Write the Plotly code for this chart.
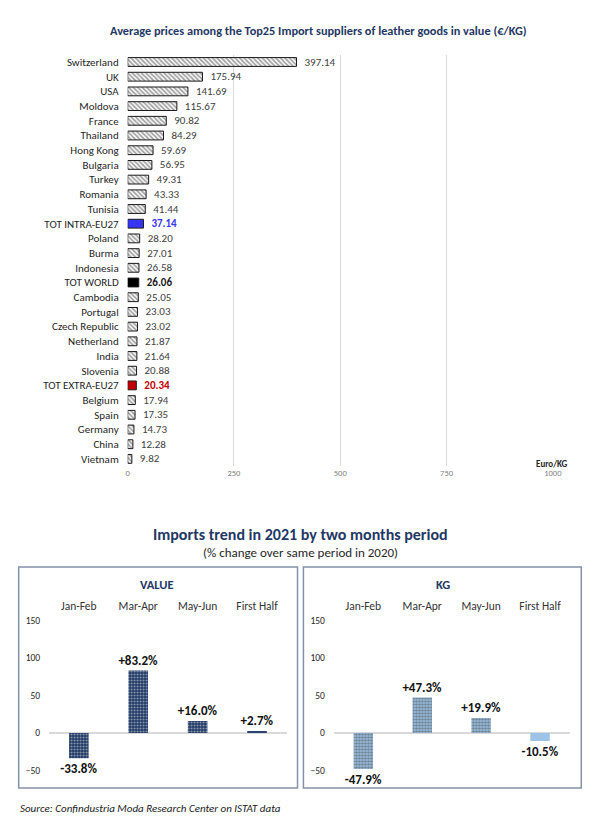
import plotly.graph_objects as go

W, H = 606, 836


def px(x):
    return x / W


def py(y):
    return 1 - y / H


# ---------------- data ----------------
countries = ["Switzerland", "UK", "USA", "Moldova", "France", "Thailand", "Hong Kong",
             "Bulgaria", "Turkey", "Romania", "Tunisia", "TOT INTRA-EU27", "Poland",
             "Burma", "Indonesia", "TOT WORLD", "Cambodia", "Portugal", "Czech Republic",
             "Netherland", "India", "Slovenia", "TOT EXTRA-EU27", "Belgium", "Spain",
             "Germany", "China", "Vietnam"]
prices = [397.14, 175.94, 141.69, 115.67, 90.82, 84.29, 59.69, 56.95, 49.31, 43.33,
          41.44, 37.14, 28.20, 27.01, 26.58, 26.06, 25.05, 23.03, 23.02, 21.87, 21.64,
          20.88, 20.34, 17.94, 17.35, 14.73, 12.28, 9.82]
x_ticks = [0, 250, 500, 750, 1000]

periods = ["Jan-Feb", "Mar-Apr", "May-Jun", "First Half"]
value_change = [-33.8, 83.2, 16.0, 2.7]
kg_change = [-47.9, 47.3, 19.9, -10.5]
y_ticks_small = [-50, 0, 50, 100, 150]

# ---------------- styles ----------------
FONT = "Carlito, Lato, 'Open Sans', sans-serif"
NAVY = "#1F3864"
KGBLUE = "#9DC3E6"
special = {"TOT INTRA-EU27": "#3535F2", "TOT WORLD": "#000000", "TOT EXTRA-EU27": "#C00000"}
special_text = {"TOT INTRA-EU27": "#3535F2", "TOT WORLD": "#1A1A1A", "TOT EXTRA-EU27": "#C00000"}
PAD = "\u00a0\u00a0"

bar_colors, shapes_p, texts, text_colors = [], [], [], []
for c, v in zip(countries, prices):
    if c in special:
        bar_colors.append(special[c])
        shapes_p.append("")
        texts.append(f"{PAD}<b>{v:.2f}</b>")
        text_colors.append(special_text[c])
    else:
        bar_colors.append("white")
        shapes_p.append("\\")
        texts.append(f"{PAD}{v:.2f}")
        text_colors.append("#404040")

fig = go.Figure()

fig.add_trace(go.Bar(
    y=countries, x=prices, orientation="h", width=0.6,
    marker=dict(color=bar_colors, line=dict(color="#1A1A1A", width=1),
                pattern=dict(shape=shapes_p, fgcolor="#111111", bgcolor="white",
                             size=3.2, solidity=0.55, fillmode="overlay")),
    text=texts, textposition="outside", cliponaxis=False, constraintext="none",
    textfont=dict(size=11, color=text_colors, family=FONT),
    xaxis="x", yaxis="y", showlegend=False, hoverinfo="skip",
))

val_text = [f"{v:+.1f}%" for v in value_change]
kg_text = [f"{v:+.1f}%" for v in kg_change]

fig.add_trace(go.Bar(
    x=periods, y=value_change, width=0.33,
    marker=dict(color=[NAVY, NAVY, NAVY, "#2E4372"], line=dict(width=0),
                pattern=dict(shape=[".", ".", ".", ""], fgcolor="white", bgcolor=NAVY,
                             size=3, solidity=0.35, fillmode="overlay")),
    text=val_text, textposition="outside", cliponaxis=False, constraintext="none",
    textfont=dict(size=13, color="#111111", family=FONT, weight="bold"),
    xaxis="x2", yaxis="y2", showlegend=False, hoverinfo="skip",
))

fig.add_trace(go.Bar(
    x=periods, y=kg_change, width=0.33,
    marker=dict(color=[KGBLUE] * 4, line=dict(width=0),
                pattern=dict(shape=[".", ".", ".", ""], fgcolor="white", bgcolor=KGBLUE,
                             size=3, solidity=0.55, fillmode="overlay")),
    text=kg_text, textposition="outside", cliponaxis=False, constraintext="none",
    textfont=dict(size=13, color="#111111", family=FONT, weight="bold"),
    xaxis="x3", yaxis="y3", showlegend=False, hoverinfo="skip",
))

# row geometry: first row at 62px, row pitch 14.7px, 28 rows
top_px = 62 - 7.35
bot_px = 62 + 27 * 14.7 + 7.35

small_y_dom = [py(733 + 68 * 0.75), py(733 - 160 * 0.75)]

fig.update_layout(
    width=W, height=H, margin=dict(l=0, r=0, t=0, b=0),
    paper_bgcolor="white", plot_bgcolor="white",
    font=dict(family=FONT, color="#262626"),
    bargap=0.4,
    xaxis=dict(domain=[px(128), px(561)], range=[0, 1000], tickvals=x_ticks,
               showgrid=True, gridcolor="#D9D9D9", gridwidth=1, zeroline=False,
               showline=False, ticks="", tickfont=dict(size=8.5, color="#7F7F7F"),
               anchor="y", fixedrange=True),
    yaxis=dict(domain=[py(bot_px), py(top_px)], categoryorder="array",
               categoryarray=countries, range=[27.5, -0.5], showgrid=False,
               zeroline=False, showline=False, ticks="", ticklabelstandoff=8,
               tickfont=dict(size=11, color="#1F1F1F"), anchor="x"),
    xaxis2=dict(domain=[px(48), px(290)], range=[-0.5, 3.5], side="top", anchor="y2",
                showgrid=False, zeroline=False, showline=False, ticks="",
                tickfont=dict(size=11.5, color="#333333")),
    yaxis2=dict(domain=small_y_dom, range=[-68, 160], tickvals=y_ticks_small,
                showgrid=False, zeroline=True, zerolinecolor="#D9D9D9", zerolinewidth=2,
                showline=False, ticks="", ticklabelstandoff=8,
                tickfont=dict(size=9.5, color="#262626"), anchor="x2"),
    xaxis3=dict(domain=[px(338), px(578)], range=[-0.5, 3.5], side="top", anchor="y3",
                showgrid=False, zeroline=False, showline=False, ticks="",
                tickfont=dict(size=11.5, color="#333333")),
    yaxis3=dict(domain=small_y_dom, range=[-68, 160], tickvals=y_ticks_small,
                showgrid=False, zeroline=True, zerolinecolor="#D9D9D9", zerolinewidth=2,
                showline=False, ticks="", ticklabelstandoff=8,
                tickfont=dict(size=9.5, color="#262626"), anchor="x3"),
)

panel_line = dict(color="#8491AB", width=1.5)
fig.add_shape(type="rect", xref="paper", yref="paper",
              x0=px(17), x1=px(301), y0=py(788), y1=py(567), line=panel_line)
fig.add_shape(type="rect", xref="paper", yref="paper",
              x0=px(307), x1=px(590), y0=py(788), y1=py(567), line=panel_line)


def note(text, x, y, size, color, xanchor="center", **kw):
    fig.add_annotation(text=text, x=px(x), y=py(y), xref="paper", yref="paper",
                       showarrow=False, xanchor=xanchor, yanchor="middle",
                       font=dict(size=size, color=color, family=FONT), **kw)


note("<b>Average prices among the Top25 Import suppliers of leather goods in value (€/KG)</b>",
     322, 30, 12.3, NAVY)
note("<b>Euro/KG</b>", 560, 463, 9, "#262626")
note("<b>Imports trend in 2021 by two months period</b>", 304, 534, 16, NAVY)
note("(% change over same period in 2020)", 304, 552, 13, "#262626")
note("<b>VALUE</b>", 158, 584, 12.5, NAVY)
note("<b>KG</b>", 449, 584, 12.5, NAVY)
note("<i>Source: Confindustria Moda Research Center on ISTAT data</i>", 16, 808, 11,
     "#1A1A1A", xanchor="left")

fig.write_html("out.html", config={"displayModeBar": False, "staticPlot": True},
               post_script="document.body.style.margin='0';document.body.style.overflow='hidden';")
